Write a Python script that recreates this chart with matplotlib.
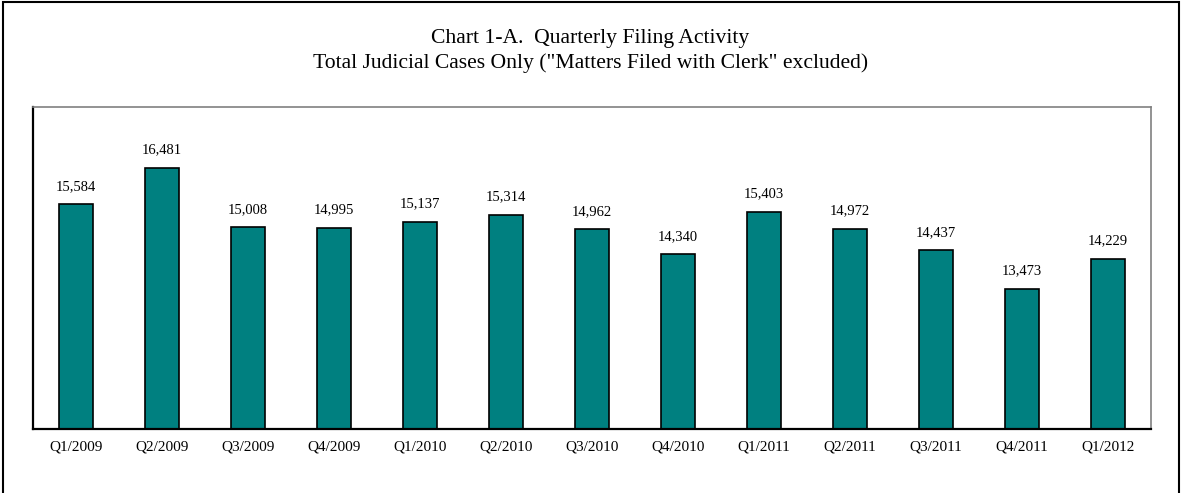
import matplotlib.pyplot as plt
from matplotlib.patches import Rectangle

# Quarterly filing data (judicial cases only)
quarters = ['Q1/2009', 'Q2/2009', 'Q3/2009', 'Q4/2009',
            'Q1/2010', 'Q2/2010', 'Q3/2010', 'Q4/2010',
            'Q1/2011', 'Q2/2011', 'Q3/2011', 'Q4/2011', 'Q1/2012']
filings = [15584, 16481, 15008, 14995,
           15137, 15314, 14962, 14340,
           15403, 14972, 14437, 13473, 14229]

plt.rcParams['font.family'] = ['Liberation Serif', 'DejaVu Serif']

W, H = 1181, 493
fig = plt.figure(figsize=(W / 100, H / 100), dpi=100)
ax = fig.add_axes([33 / W, 1 - 429 / H, (1151 - 33) / W, (429 - 107) / H])

x = list(range(len(quarters)))
bars = ax.bar(x, filings, width=0.39, color='#008080', edgecolor='black',
              linewidth=1.2, bottom=0)

for xi, v in zip(x, filings):
    ax.annotate(f'{v:,}', (xi, v), xytext=(0, 13), textcoords='offset points',
                ha='center', va='center', fontsize=10.5)

ax.set_xlim(-0.5, len(quarters) - 0.5)
ax.set_ylim(10000, 18000)
ax.set_xticks(x)
ax.set_xticklabels(quarters, fontsize=11)
ax.tick_params(axis='x', length=0, pad=8)
ax.set_yticks([])

for side in ['left', 'bottom']:
    ax.spines[side].set_color('black')
    ax.spines[side].set_linewidth(1.6)
for side in ['top', 'right']:
    ax.spines[side].set_color('#808080')
    ax.spines[side].set_linewidth(1.2)

# Titles
fig.text(0.5, 1 - 38 / H, 'Chart 1-A.  Quarterly Filing Activity',
         ha='center', va='center', fontsize=15.6)
fig.text(0.5, 1 - 63 / H,
         'Total Judicial Cases Only ("Matters Filed with Clerk" excluded)',
         ha='center', va='center', fontsize=15.6)

# Outer frame around the chart
frame = Rectangle((3 / W, -0.05), (1179 - 3) / W, 1.05 - 1.5 / H,
                  transform=fig.transFigure, fill=False,
                  edgecolor='black', linewidth=1.5, clip_on=False)
fig.add_artist(frame)

plt.savefig('out.png', dpi=100)
